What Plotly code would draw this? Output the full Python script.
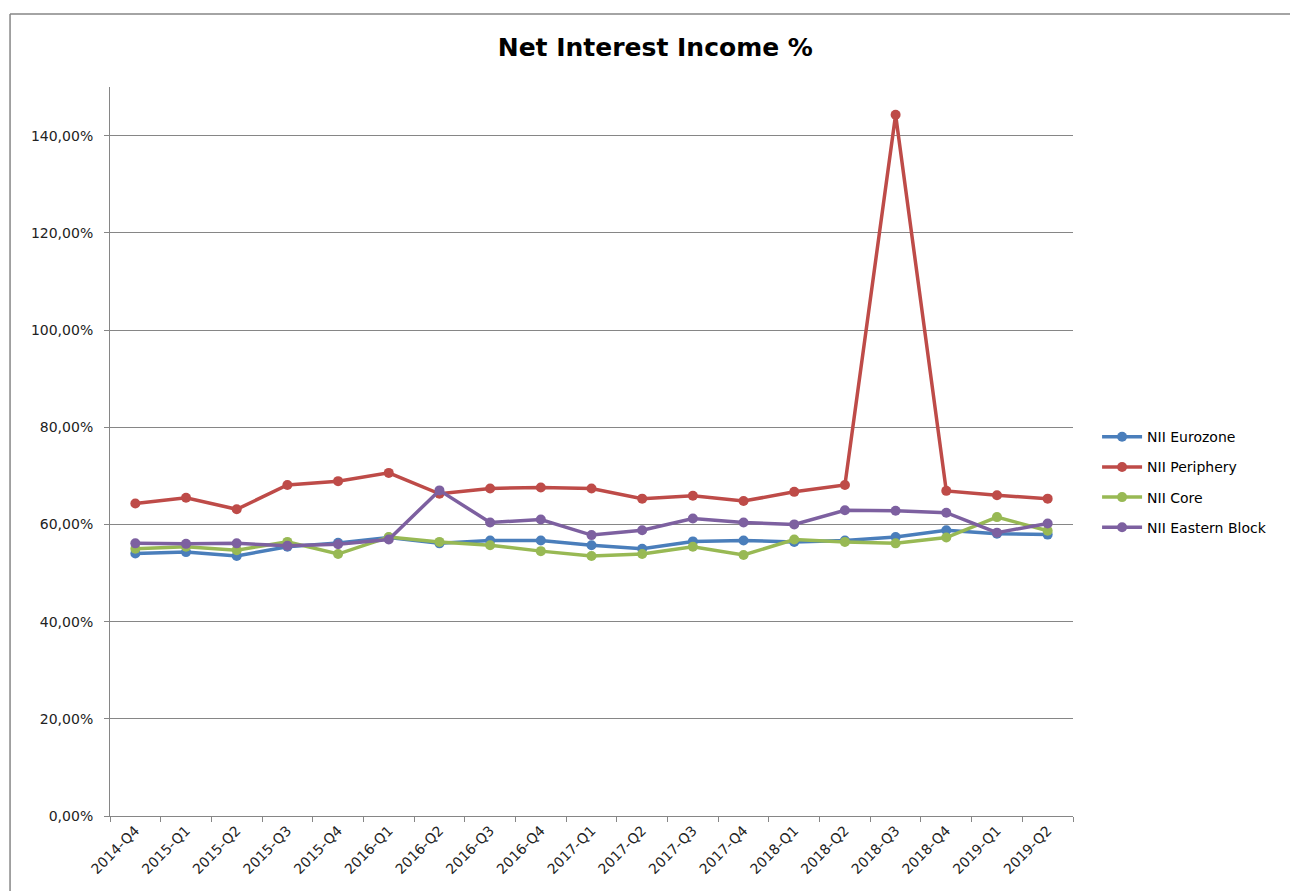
import plotly.graph_objects as go

quarters = ["2014-Q4", "2015-Q1", "2015-Q2", "2015-Q3", "2015-Q4", "2016-Q1", "2016-Q2",
            "2016-Q3", "2016-Q4", "2017-Q1", "2017-Q2", "2017-Q3", "2017-Q4", "2018-Q1",
            "2018-Q2", "2018-Q3", "2018-Q4", "2019-Q1", "2019-Q2"]

nii_eurozone = [54.0, 54.3, 53.5, 55.4, 56.2, 57.3, 56.1, 56.7, 56.7, 55.7, 55.0, 56.5, 56.7,
                56.4, 56.7, 57.4, 58.8, 58.1, 57.9]
nii_periphery = [64.3, 65.5, 63.1, 68.1, 68.9, 70.6, 66.3, 67.4, 67.6, 67.4, 65.3, 65.9, 64.8,
                 66.7, 68.1, 144.3, 66.9, 66.0, 65.3]
nii_core = [55.0, 55.4, 54.7, 56.4, 53.9, 57.4, 56.4, 55.7, 54.5, 53.5, 53.9, 55.4, 53.7,
            56.9, 56.4, 56.1, 57.3, 61.5, 58.7]
nii_eastern = [56.1, 56.0, 56.1, 55.6, 55.9, 56.9, 67.0, 60.4, 61.0, 57.8, 58.8, 61.2, 60.4,
               60.0, 62.9, 62.8, 62.4, 58.3, 60.2]

y_ticks = [0, 20, 40, 60, 80, 100, 120, 140]
y_tick_text = ["0,00%", "20,00%", "40,00%", "60,00%", "80,00%", "100,00%", "120,00%", "140,00%"]

series = [
    ("NII Eurozone", nii_eurozone, "#4A7EBB"),
    ("NII Periphery", nii_periphery, "#BE4B48"),
    ("NII Core", nii_core, "#98B954"),
    ("NII Eastern Block", nii_eastern, "#7D60A0"),
]

fig = go.Figure()
for name, vals, color in series:
    fig.add_trace(go.Scatter(
        x=quarters, y=vals, name=name, mode="lines+markers",
        legendgroup=name,
        line=dict(color=color, width=3.5),
        marker=dict(color=color, size=10),
    ))

font_family = "DejaVu Sans, Verdana, sans-serif"

fig.update_layout(
    width=1290, height=891,
    margin=dict(l=110, r=217, t=87, b=75),
    paper_bgcolor="white", plot_bgcolor="white",
    title=dict(text="<b>Net Interest Income %</b>", x=0.508, xanchor="center",
               y=0.947, yanchor="middle",
               font=dict(family=font_family, size=25, color="black")),
    font=dict(family=font_family, size=14, color="#222222"),
    showlegend=True,
    legend=dict(x=1.025, y=0.458, xanchor="left", yanchor="middle",
                font=dict(family=font_family, size=14, color="black"),
                tracegroupgap=9, itemwidth=40, bgcolor="rgba(0,0,0,0)"),
    xaxis=dict(type="category", range=[-0.5, 18.5], tickson="boundaries",
               ticks="outside", ticklen=5, tickcolor="#868686",
               showline=True, linecolor="#868686", linewidth=1,
               showgrid=False, tickangle=-45,
               tickfont=dict(family=font_family, size=14, color="#222222")),
    yaxis=dict(range=[0, 150], tickvals=y_ticks, ticktext=y_tick_text,
               ticks="outside", ticklen=5, tickcolor="#868686",
               showline=True, linecolor="#868686", linewidth=1,
               showgrid=True, gridcolor="#868686", gridwidth=1,
               zeroline=False, ticklabelstandoff=8,
               tickfont=dict(family=font_family, size=14, color="#222222")),
)

# outer chart border (left and top edges visible)
fig.add_shape(type="line", xref="paper", yref="paper",
              x0=-0.1038, x1=1.3, y0=1.1001, y1=1.1001,
              line=dict(color="#868686", width=1.5))
fig.add_shape(type="line", xref="paper", yref="paper",
              x0=-0.1038, x1=-0.1038, y0=-0.2, y1=1.1001,
              line=dict(color="#868686", width=1.5))

fig.write_html("out.html")
